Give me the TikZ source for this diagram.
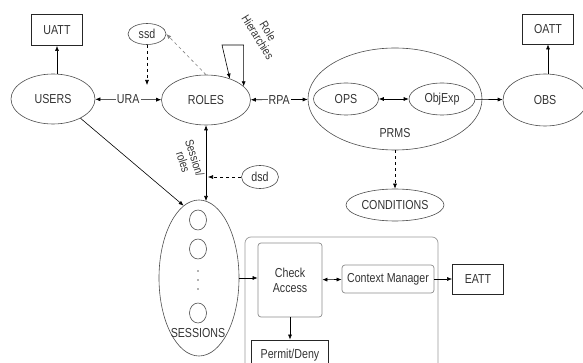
\documentclass[tikz,border=0pt]{standalone}
\usepackage{fontspec}
\setmainfont[FakeStretch=0.82]{Liberation Sans}
\usetikzlibrary{positioning,shapes.geometric,arrows.meta}

\begin{document}
\begin{tikzpicture}[x=1pt, y=-1pt,
  every node/.style={font=\fontsize{13}{15}\selectfont, text=black!80, align=center},
  ent/.style={draw=black!70, line width=0.6pt, ellipse, inner sep=0pt},
  attr/.style={draw=black!85, line width=0.8pt, rectangle, inner sep=2pt},
  proc/.style={draw=black!45, line width=0.7pt, rectangle, rounded corners=3pt, inner sep=2pt},
  lbl/.style={fill=white, inner sep=1pt},
  small/.style={font=\fontsize{12}{12}\selectfont, inner sep=1pt},
  arr/.style={line width=0.6pt, -{Latex[length=5pt,width=4pt]}},
  birr/.style={line width=0.6pt, {Latex[length=5pt,width=4pt]}-{Latex[length=5pt,width=4pt]}}]
\clip (0,0) rectangle (583,363);

% Entity sets
\node (users) [ent, minimum width=84, minimum height=50] at (53,99) {USERS};
\node (roles) [ent, minimum width=89, minimum height=50] at (206,100) {ROLES};
\node (prms) [ent, minimum width=174, minimum height=102] at (395,99) {};
\node (prmslabel) at (395,133) {PRMS};
\node (ops) [ent, minimum width=65, minimum height=32] at (346,99) {OPS};
\node (objexp) [ent, minimum width=66, minimum height=32] at (442,99) {ObjExp};
\node (obs) [ent, minimum width=84, minimum height=52] at (545,100) {OBS};
\node (conditions) [ent, minimum width=98, minimum height=32] at (395,205) {CONDITIONS};
\node (ssd) [ent, minimum width=38, minimum height=21] at (147,34) {ssd};
\node (dsd) [ent, minimum width=37, minimum height=23] at (260,177) {dsd};

% Sessions
\node (sessions) [ent, minimum width=80, minimum height=156] at (199,278) {};
\node (sess1) [ent, minimum width=17, minimum height=20] at (198,220) {};
\node (sess2) [ent, minimum width=17, minimum height=20] at (198,249) {};
\foreach \y in {271,280,289}
  \fill[black!60] (198,\y) circle (0.8);
\node (sess3) [ent, minimum width=17, minimum height=20] at (198,313) {};
\node (sesslabel) at (198,333) {SESSIONS};

% Attribute boxes
\node (uatt) [attr, minimum width=51, minimum height=31] at (57,30) {UATT};
\node (oatt) [attr, minimum width=51, minimum height=30] at (548,29) {OATT};
\node (eatt) [attr, minimum width=51, minimum height=30] at (478,279) {EATT};

% Decision module
\node (pdp) [draw=black!40, line width=0.7pt, rounded corners=6pt, minimum width=193, minimum height=140] at (341.5,307) {};
\node (check) [proc, minimum width=64, minimum height=74] at (290,280) {Check\\Access};
\node (ctx) [proc, minimum width=92, minimum height=28] at (388,279) {Context Manager};
\node (permit) [attr, minimum width=77, minimum height=30] at (290,355) {Permit/Deny};

% Assignments
\draw[arr] (uatt |- users.north) -- (uatt);
\draw[birr] (users) -- node[lbl] (ura) {URA} (roles);
\draw[birr] (roles) -- node[lbl] (rpa) {RPA} (prms);
\draw[birr] (ops) -- (objexp);
\draw[arr] (objexp) -- (obs);
\draw[arr] (oatt |- obs.north) -- (oatt);
\draw[arr, dashed] (prms) -- (conditions);

% Role hierarchies
\coordinate (rhcorner) at (222,45);
\draw[birr] (roles.42) -- (rhcorner) -| (roles.20);
\node (rhlabel) [small, rotate=-58] at (263,34) {Role\\Hierarchies};

% Constraints
\coordinate (ssdend) at (147,85);
\draw[arr, dashed] (ssd) -- (ssdend);
\draw[arr, dashed, draw=black!50] (roles.north) -- (ssd.east);
\coordinate (sesstop) at (206,201);
\draw[birr] (roles.south) -- (sesstop);
\node (srlabel) [small, rotate=-72] at (189,160) {Session/\\roles};
\coordinate (dsdend) at (208,177);
\draw[arr, dashed] (dsd) -- (dsdend);
\draw[arr] (users.-35) -- (sessions.102);

% Access check
\draw[arr] (sessions.east) -- (sessions.east -| check.west);
\draw[birr] (check) -- (ctx);
\draw[arr] (ctx) -- (eatt);
\draw[arr] (check) -- (permit);
\end{tikzpicture}
\end{document}
